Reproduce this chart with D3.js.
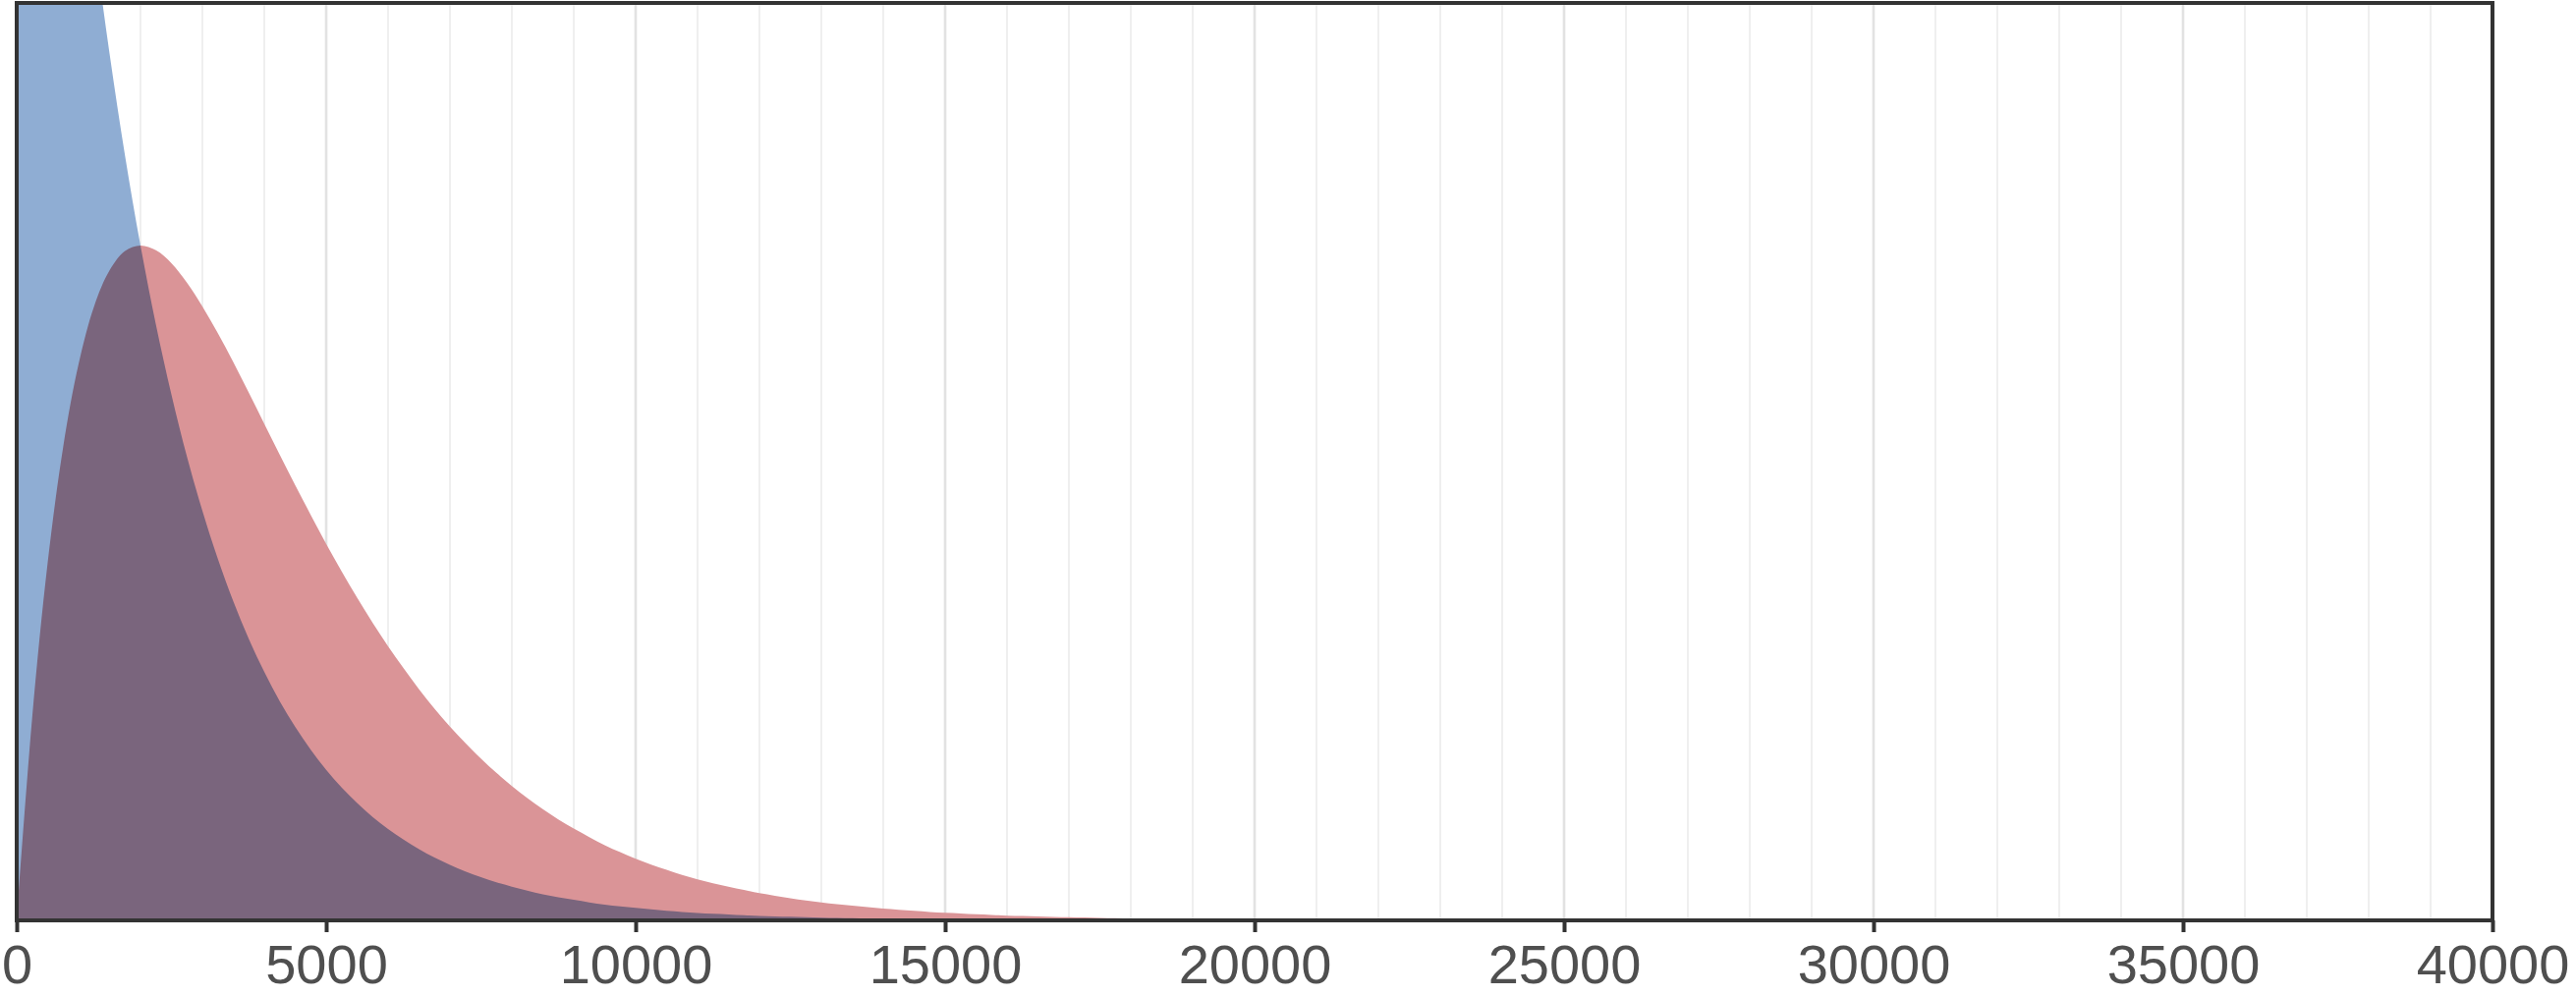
<!DOCTYPE html>
<html>
<head>
<meta charset="utf-8">
<script src="https://cdn.jsdelivr.net/npm/d3@7"></script>
<style>
  html, body { margin: 0; padding: 0; background: #ffffff; }
  svg { display: block; }
</style>
</head>
<body>
<svg id="chart" width="2622" height="1014"></svg>
<script>
// ---- data (y in units of 1e-4) ----
const xValues = [0, 250, 500, 750, 1000, 1250, 1500, 1750, 2000, 2250, 2500, 2750, 3000,
  3250, 3500, 3750, 4000, 4250, 4500, 4750, 5000, 5250, 5500, 5750, 6000, 6250, 6500,
  6750, 7000, 7250, 7500, 7750, 8000, 8250, 8500, 8750, 9000, 9250, 9500, 9750, 10000,
  10250, 10500, 10750, 11000, 11250, 11500, 11750, 12000, 12250, 12500, 12750, 13000,
  13250, 13500, 13750, 14000, 14250, 14500, 14750, 15000, 15250, 15500, 15750, 16000,
  16250, 16500, 16750, 17000, 17250, 17500, 17750, 18000, 18250, 18500, 18750, 19000,
  19250, 19500, 19750, 20000];
const blueValues = [5.000, 4.412, 3.894, 3.436, 3.033, 2.676, 2.362, 2.084, 1.839, 1.623,
  1.433, 1.264, 1.116, 0.985, 0.869, 0.767, 0.677, 0.597, 0.527, 0.465, 0.410, 0.362,
  0.320, 0.282, 0.249, 0.220, 0.194, 0.171, 0.151, 0.133, 0.118, 0.104, 0.092, 0.081,
  0.071, 0.063, 0.056, 0.049, 0.043, 0.038, 0.034, 0.030, 0.026, 0.023, 0.020, 0.018,
  0.016, 0.014, 0.012, 0.011, 0.010, 0.0085, 0.0075, 0.0066, 0.0059, 0.0052, 0.0046,
  0.0040, 0.0036, 0.0031, 0.0028, 0.0024, 0.0022, 0.0019, 0.0017, 0.0015, 0.0013,
  0.0012, 0.0010, 0.0009, 0.0008, 0.0007, 0.0006, 0.0005, 0.0005, 0.0004, 0.0004,
  0.0003, 0.0003, 0.0003, 0.0002];
const redValues = [0, 0.552, 0.974, 1.289, 1.516, 1.673, 1.771, 1.824, 1.839, 1.826,
  1.791, 1.738, 1.673, 1.600, 1.521, 1.438, 1.353, 1.269, 1.186, 1.105, 1.026, 0.951,
  0.879, 0.811, 0.747, 0.687, 0.630, 0.577, 0.528, 0.483, 0.441, 0.402, 0.366, 0.333,
  0.303, 0.275, 0.250, 0.227, 0.205, 0.186, 0.168, 0.152, 0.138, 0.124, 0.112, 0.101,
  0.092, 0.083, 0.074, 0.067, 0.060, 0.054, 0.049, 0.044, 0.040, 0.036, 0.032, 0.029,
  0.026, 0.023, 0.021, 0.019, 0.017, 0.015, 0.013, 0.012, 0.011, 0.0096, 0.0086, 0.0077,
  0.0069, 0.0062, 0.0055, 0.0050, 0.0044, 0.0040, 0.0036, 0.0032, 0.0028, 0.0025, 0.0023];
const tickValues = [0, 5000, 10000, 15000, 20000, 25000, 30000, 35000, 40000];
const tickLabels = ["0", "5000", "10000", "15000", "20000", "25000", "30000", "35000", "40000"];
const xDomain = [0, 40000];
const yDomain = [0, 2.5];
const gridStep = 1000;

// ---- layout ----
const W = 2622, H = 1014;
const plot = { left: 17, right: 2537, top: 3, bottom: 937 };

const svg = d3.select("#chart");
svg.append("rect").attr("x", 0).attr("y", 0).attr("width", W).attr("height", H).attr("fill", "#ffffff");

const x = d3.scaleLinear().domain(xDomain).range([plot.left, plot.right]);
const y = d3.scaleLinear().domain(yDomain).range([plot.bottom, plot.top]);

// clip
svg.append("defs").append("clipPath").attr("id", "plotClip")
  .append("rect")
  .attr("x", plot.left).attr("y", plot.top)
  .attr("width", plot.right - plot.left).attr("height", plot.bottom - plot.top);

// gridlines
const gridValues = d3.range(xDomain[0] + gridStep, xDomain[1], gridStep);
const grid = svg.append("g");
grid.selectAll("line").data(gridValues).join("line")
  .attr("x1", d => x(d)).attr("x2", d => x(d))
  .attr("y1", plot.top).attr("y2", plot.bottom)
  .attr("stroke", d => d % 5000 === 0 ? "#e2e2e2" : "#ebebeb")
  .attr("stroke-width", d => d % 5000 === 0 ? 2.6 : 1.6);

// areas
const series = [
  { values: blueValues, color: "#8fadd3" },
  { values: redValues, color: "#da9497" }
];
const area = d3.area()
  .x(d => x(d[0]))
  .y0(y(0))
  .y1(d => y(d[1]))
  .curve(d3.curveCatmullRom.alpha(0.5));

const areas = svg.append("g").attr("clip-path", "url(#plotClip)");
series.forEach(s => {
  areas.append("path")
    .datum(xValues.map((xv, i) => [xv, s.values[i]]))
    .attr("d", area)
    .attr("fill", s.color)
    .style("mix-blend-mode", "multiply");
});

// axis
const axis = d3.axisBottom(x)
  .tickValues(tickValues)
  .tickFormat((d, i) => tickLabels[i])
  .tickSize(12)
  .tickSizeOuter(0);
const gAxis = svg.append("g").attr("transform", `translate(0,${plot.bottom})`).call(axis);
gAxis.select(".domain").remove();
gAxis.selectAll(".tick line").attr("stroke", "#333333").attr("stroke-width", 4);
gAxis.selectAll(".tick text")
  .attr("y", 64).attr("dy", null)
  .attr("fill", "#4f4f4f")
  .style("font-family", "'Liberation Sans', Arial, Helvetica, sans-serif")
  .style("font-size", "56px");

// frame
svg.append("rect")
  .attr("x", plot.left).attr("y", plot.top)
  .attr("width", plot.right - plot.left).attr("height", plot.bottom - plot.top)
  .attr("fill", "none")
  .attr("stroke", "#333333")
  .attr("stroke-width", 4);
</script>
</body>
</html>
